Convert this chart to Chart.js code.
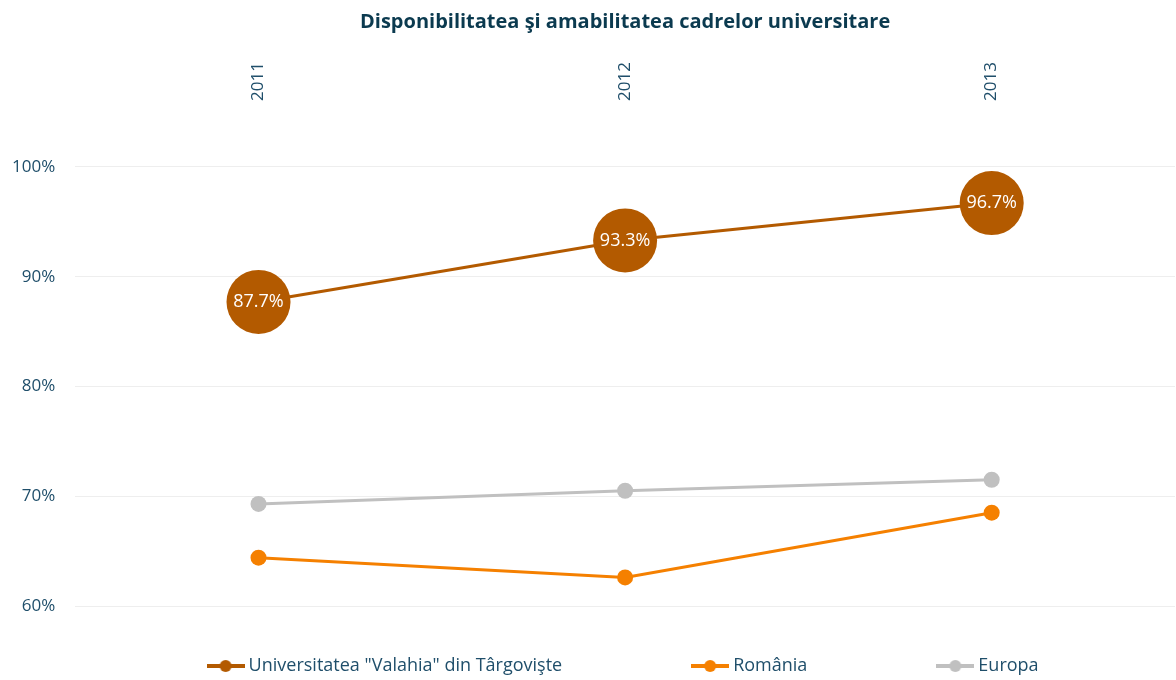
<!DOCTYPE html>
<html>
<head>
<meta charset="utf-8">
<script src="https://cdn.jsdelivr.net/npm/chart.js@4"></script>
<style>
  body { margin: 0; background: #fff; }
  #wrap { width: 1176px; height: 680px; position: relative; }
</style>
</head>
<body>
<div id="wrap"><canvas id="myChart"></canvas></div>
<script>
var years = ['2011', '2012', '2013'];
var valahia = [87.7, 93.3, 96.7];
var romania = [64.4, 62.6, 68.5];
var europa = [69.3, 70.5, 71.5];
var yTicks = [60, 70, 80, 90, 100];

var seriesNames = ['Universitatea "Valahia" din Târgovişte', 'România', 'Europa'];
var colors = ['#B35A00', '#F58000', '#C0C0C0'];
var textColor = '#1F4E6A';
var fontFamily = '"Open Sans", Lato, sans-serif';

// small line + dot icon for the legend
function makeIcon(color) {
    var c = document.createElement('canvas');
    c.width = 38; c.height = 14;
    var ctx = c.getContext('2d');
    ctx.strokeStyle = color;
    ctx.lineWidth = 4;
    ctx.beginPath();
    ctx.moveTo(0, 7); ctx.lineTo(38, 7);
    ctx.stroke();
    ctx.fillStyle = color;
    ctx.beginPath();
    ctx.arc(19, 7, 6, 0, Math.PI * 2);
    ctx.fill();
    return c;
}

// white value labels inside the big circles
var valueLabels = {
    id: 'valueLabels',
    afterDatasetsDraw: function(chart) {
        var ctx = chart.ctx;
        var meta = chart.getDatasetMeta(0);
        ctx.save();
        ctx.font = '18px ' + fontFamily;
        ctx.fillStyle = '#ffffff';
        ctx.textAlign = 'center';
        ctx.textBaseline = 'middle';
        meta.data.forEach(function(pt, i) {
            ctx.fillText(valahia[i].toFixed(1) + '%', pt.x, pt.y);
        });
        ctx.restore();
    }
};

// wide gaps between legend items without making the legend tall
var legendGap = 134;
var legendHeight = 74;
var legendShift = legendGap - 51;
var legendSpacing = {
    id: 'legendSpacing',
    beforeInit: function(chart) {
        var lg = chart.legend;
        var fit = lg.fit, draw = lg.draw;
        lg.fit = function() {
            fit.call(this);
            this.height = legendHeight;
        };
        lg.draw = function() {
            var top = this.top, h = this.height;
            this.top = top - legendShift;
            this.height = h + legendShift;
            draw.call(this);
            this.top = top;
            this.height = h;
        };
    }
};

document.addEventListener("DOMContentLoaded", function() {
    var canvas = document.getElementById("myChart");
    new Chart(canvas, {
        type: 'line',
        data: {
            labels: years,
            datasets: [{
                label: seriesNames[0],
                data: valahia,
                borderColor: colors[0],
                backgroundColor: colors[0],
                borderWidth: 3,
                pointRadius: 32,
                pointHoverRadius: 32,
                pointBorderWidth: 0,
                clip: false,
                order: 0
            }, {
                label: seriesNames[1],
                data: romania,
                borderColor: colors[1],
                backgroundColor: colors[1],
                borderWidth: 3,
                pointRadius: 8,
                pointHoverRadius: 8,
                pointBorderWidth: 0,
                clip: false,
                order: 1
            }, {
                label: seriesNames[2],
                data: europa,
                borderColor: colors[2],
                backgroundColor: colors[2],
                borderWidth: 3,
                pointRadius: 8,
                pointHoverRadius: 8,
                pointBorderWidth: 0,
                clip: false,
                order: 2
            }]
        },
        options: {
            responsive: true,
            maintainAspectRatio: false,
            animation: false,
            layout: { autoPadding: false, padding: { left: 12, right: 1, top: 0, bottom: 0 } },
            scales: {
                x: {
                    position: 'top',
                    offset: true,
                    grid: { display: false, drawTicks: false },
                    border: { display: false },
                    ticks: {
                        color: textColor,
                        font: { family: fontFamily, size: 17 },
                        minRotation: 90,
                        maxRotation: 90,
                        padding: 66,
                        labelOffset: 20
                    },
                    afterFit: function(scale) {
                        // padding is counted twice by default; keep it once
                        scale.height -= scale.options.ticks.padding;
                        scale.paddingLeft = 0;
                        scale.paddingRight = 0;
                    }
                },
                y: {
                    min: 60,
                    max: 100,
                    afterBuildTicks: function(axis) {
                        axis.ticks = yTicks.map(function(v) { return { value: v }; });
                    },
                    grid: { color: '#EEEEEE', drawTicks: false },
                    border: { display: false },
                    ticks: {
                        color: textColor,
                        font: { family: fontFamily, size: 17 },
                        padding: 20,
                        callback: function(v) { return v + '%'; }
                    },
                    afterFit: function(scale) {
                        scale.width -= scale.options.ticks.padding;
                    }
                }
            },
            plugins: {
                title: {
                    display: true,
                    text: 'Disponibilitatea şi amabilitatea cadrelor universitare',
                    color: '#0B3A4F',
                    fullSize: false,
                    font: { family: fontFamily, size: 20, weight: 'bold' },
                    padding: { top: 10, bottom: 28 }
                },
                legend: {
                    position: 'bottom',
                    fullSize: false,
                    labels: {
                        color: textColor,
                        font: { family: fontFamily, size: 18 },
                        usePointStyle: true,
                        pointStyleWidth: 28,
                        padding: legendGap,
                        generateLabels: function(chart) {
                            return chart.data.datasets.map(function(ds, i) {
                                return {
                                    text: ds.label,
                                    fontColor: textColor,
                                    pointStyle: makeIcon(colors[i]),
                                    lineWidth: 0,
                                    hidden: false,
                                    datasetIndex: i
                                };
                            });
                        }
                    }
                },
                tooltip: { enabled: false }
            }
        },
        plugins: [valueLabels, legendSpacing]
    });
});
</script>
</body>
</html>
